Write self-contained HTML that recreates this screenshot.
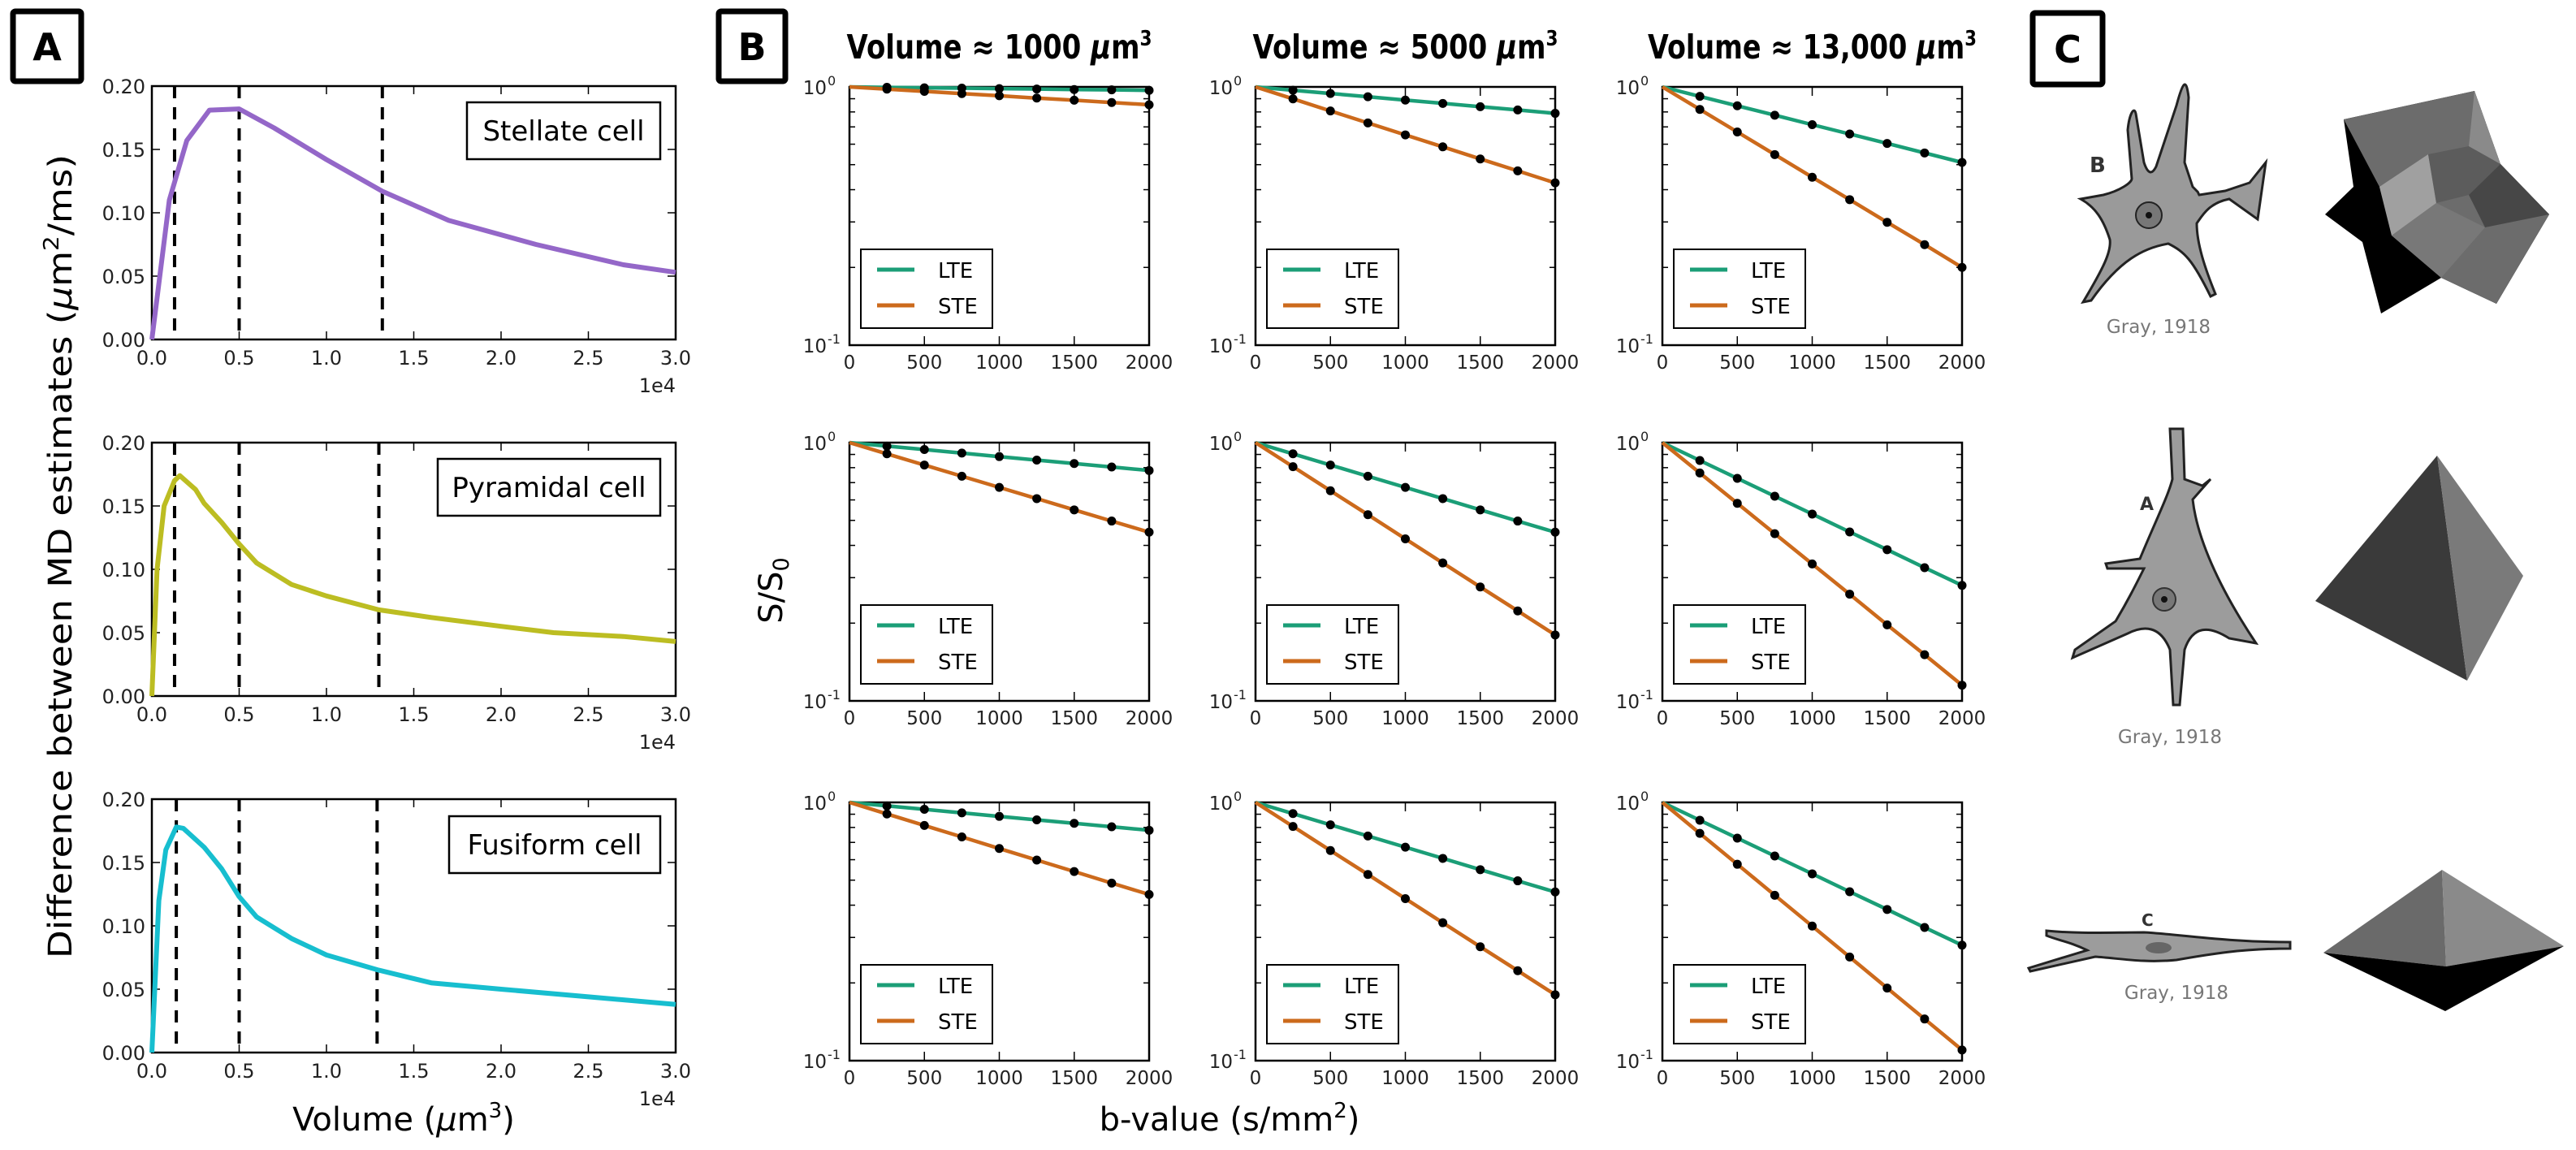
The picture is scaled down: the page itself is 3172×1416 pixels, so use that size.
<!DOCTYPE html>
<html><head><meta charset="utf-8"><style>
html,body{margin:0;padding:0;background:#fff;}
svg{display:block;}
text{font-family:"DejaVu Sans",sans-serif;}
</style></head><body>
<svg id="fig" xmlns="http://www.w3.org/2000/svg" width="3172" height="1416" viewBox="0 0 3172 1416">
<rect width="3172" height="1416" fill="#fff"/>
<g>
<rect x="16" y="14" width="84" height="86" fill="none" stroke="#000" stroke-width="7" rx="3"/>
<text x="58" y="74" text-anchor="middle" font-family="Liberation Sans, sans-serif" font-weight="bold" font-size="46">A</text></g>
<g>
<rect x="885" y="14" width="82" height="86" fill="none" stroke="#000" stroke-width="7" rx="3"/>
<text x="926" y="74" text-anchor="middle" font-family="Liberation Sans, sans-serif" font-weight="bold" font-size="46">B</text></g>
<g>
<rect x="2503" y="16" width="86" height="88" fill="none" stroke="#000" stroke-width="7" rx="3"/>
<text x="2546" y="77" text-anchor="middle" font-family="Liberation Sans, sans-serif" font-weight="bold" font-size="46">C</text></g>

<text transform="translate(88,685) rotate(-90)" text-anchor="middle" font-family="Liberation Sans, sans-serif" font-size="40" textLength="990" lengthAdjust="spacingAndGlyphs">Difference between MD estimates (<tspan font-style="italic">μ</tspan>m<tspan font-size="26" dy="-16">2</tspan><tspan dy="16">/ms)</tspan></text>
<text x="497" y="1392" text-anchor="middle" font-family="Liberation Sans, sans-serif" font-size="40">Volume (<tspan font-style="italic">μ</tspan>m<tspan font-size="26" dy="-16">3</tspan><tspan dy="16">)</tspan></text>
<text transform="translate(963,727) rotate(-90)" text-anchor="middle" font-family="Liberation Sans, sans-serif" font-size="40">S/S<tspan font-size="27" dy="8">0</tspan></text>
<text x="1514" y="1392" text-anchor="middle" font-family="Liberation Sans, sans-serif" font-size="40">b-value (s/mm<tspan font-size="26" dy="-16">2</tspan><tspan dy="16">)</tspan></text>

<g id="chartsA"></g>
<g id="chartsB"></g>

<g>
<path d="M2590,240 C2610,235 2625,225 2625,220 L2620,160 C2622,140 2628,130 2630,140 L2640,200 C2645,215 2650,215 2655,205 L2680,130 C2688,100 2692,95 2695,120 L2690,200 L2700,230 C2710,240 2705,235 2708,240 L2740,235 L2770,225 L2790,200 L2780,270 L2745,245 C2720,250 2712,265 2705,275 C2705,300 2715,330 2728,362 L2722,365 C2700,320 2690,310 2670,300 C2640,305 2610,320 2575,370 L2565,372 C2590,330 2600,310 2598,295 C2590,270 2580,255 2562,245 Z" fill="#9a9a9a" stroke="#222" stroke-width="3"/>
<circle cx="2646" cy="265" r="16" fill="#777" stroke="#222" stroke-width="2"/>
<circle cx="2646" cy="265" r="4" fill="#111"/>
<text x="2573" y="212" font-family="Liberation Serif, serif" font-weight="bold" font-size="26" fill="#333">B</text>
</g>
<text x="2658" y="410" text-anchor="middle" font-family="Liberation Sans, sans-serif" font-size="23" fill="#777">Gray, 1918</text>
<g>
<polygon points="2886,147 3047,112 3079,202 3139,264 3074,374 3006,342 2932,386 2909,298 2863,264 2898,230" fill="#000"/>
<polygon points="2886,147 3047,112 3079,202 3139,264 3074,374 3006,342 2945,290 2930,230" fill="#6c6c6c"/>
<polygon points="2930,230 2990,190 3000,250 2945,290" fill="#a0a0a0"/>
<polygon points="2990,190 3040,180 3079,202 3040,240 3000,250" fill="#5c5c5c"/>
<polygon points="3079,202 3139,264 3060,280 3040,240" fill="#474747"/>
<polygon points="2945,290 3000,250 3060,280 3006,342" fill="#787878"/>
<polygon points="3047,112 3079,202 3040,180" fill="#8a8a8a"/>
</g>
<g>
<path d="M2672,528 L2688,528 L2690,590 L2712,598 L2722,590 L2700,615 C2705,660 2730,720 2778,792 L2745,786 C2720,770 2700,770 2690,800 L2684,868 L2676,868 L2672,800 C2660,770 2640,770 2620,780 L2552,810 L2555,800 L2605,765 C2620,740 2630,720 2640,700 L2595,700 L2593,694 L2635,688 C2655,640 2670,610 2675,590 Z" fill="#9c9c9c" stroke="#222" stroke-width="3"/>
<circle cx="2665" cy="738" r="14" fill="#777" stroke="#333" stroke-width="2"/>
<circle cx="2665" cy="738" r="4" fill="#111"/>
<text x="2635" y="628" font-family="Liberation Serif, serif" font-weight="bold" font-size="22" fill="#333">A</text>
</g>
<text x="2672" y="915" text-anchor="middle" font-family="Liberation Sans, sans-serif" font-size="23" fill="#777">Gray, 1918</text>
<g>
<polygon points="3001,561 2851,740 3038,838" fill="#3a3a3a"/>
<polygon points="3001,561 3038,838 3107,709" fill="#7a7a7a"/>
</g>
<g>
<path d="M2520,1146 C2560,1150 2600,1148 2640,1148 C2680,1150 2740,1160 2820,1160 L2820,1168 C2760,1168 2720,1175 2680,1182 C2640,1186 2610,1180 2580,1178 L2500,1196 L2498,1192 L2570,1170 C2550,1160 2535,1158 2520,1152 Z" fill="#9c9c9c" stroke="#222" stroke-width="3"/>
<ellipse cx="2658" cy="1167" rx="16" ry="7" fill="#666"/>
<text x="2637" y="1140" font-family="Liberation Serif, serif" font-weight="bold" font-size="20" fill="#333">C</text>
</g>
<text x="2680" y="1230" text-anchor="middle" font-family="Liberation Sans, sans-serif" font-size="23" fill="#777">Gray, 1918</text>
<g>
<polygon points="3007,1071 2861,1173 3012,1190" fill="#6a6a6a"/>
<polygon points="3007,1071 3012,1190 3157,1165" fill="#8a8a8a"/>
<polygon points="2861,1173 3012,1190 3157,1165 3011,1245" fill="#000"/>
</g>
</svg>
<script>
const volX_stellate = [0, 0.1, 0.2, 0.33, 0.5, 0.7, 1.0, 1.32, 1.7, 2.2, 2.7, 3.0];
const diff_stellate = [0, 0.11, 0.157, 0.181, 0.182, 0.167, 0.142, 0.117, 0.094, 0.075, 0.059, 0.053];
const volX_pyramidal = [0, 0.03, 0.07, 0.13, 0.16, 0.25, 0.3, 0.4, 0.5, 0.6, 0.8, 1.0, 1.3, 1.6, 2.0, 2.3, 2.7, 3.0];
const diff_pyramidal = [0, 0.1, 0.15, 0.17, 0.174, 0.163, 0.152, 0.137, 0.12, 0.105, 0.088, 0.079, 0.068, 0.062, 0.055, 0.05, 0.047, 0.043];
const volX_fusiform = [0, 0.04, 0.08, 0.14, 0.18, 0.3, 0.4, 0.5, 0.6, 0.8, 1.0, 1.3, 1.6, 2.0, 2.5, 3.0];
const diff_fusiform = [0, 0.12, 0.16, 0.178, 0.177, 0.162, 0.145, 0.123, 0.107, 0.09, 0.077, 0.065, 0.055, 0.05, 0.044, 0.038];
const dashes_stellate = [0.13, 0.5, 1.32];
const dashes_pyramidal = [0.13, 0.5, 1.3];
const dashes_fusiform = [0.14, 0.5, 1.29];
const cellNames = ["Stellate cell", "Pyramidal cell", "Fusiform cell"];
const yTicksA = [0, 0.05, 0.10, 0.15, 0.20];
const yTickLabelsA = ["0.00", "0.05", "0.10", "0.15", "0.20"];
const xTicksA = [0, 0.5, 1.0, 1.5, 2.0, 2.5, 3.0];
const xTickLabelsA = ["0.0", "0.5", "1.0", "1.5", "2.0", "2.5", "3.0"];

const bValues = [0, 250, 500, 750, 1000, 1250, 1500, 1750, 2000];
const bTicks = [0, 500, 1000, 1500, 2000];
const bTickLabels = ["0", "500", "1000", "1500", "2000"];
const volTitles = ["1000", "5000", "13,000"];
const lte_r1c1 = [1, .996, .992, .989, .985, .981, .977, .974, .97];
const ste_r1c1 = [1, .980, .961, .942, .924, .905, .888, .870, .853];
const lte_r1c2 = [1, .971, .943, .916, .889, .863, .838, .814, .79];
const ste_r1c2 = [1, .899, .807, .725, .652, .586, .526, .473, .425];
const lte_r1c3 = [1, .919, .845, .777, .714, .657, .604, .555, .51];
const ste_r1c3 = [1, .818, .669, .547, .447, .366, .299, .245, .20];
const lte_r2c1 = [1, .969, .940, .911, .883, .856, .830, .805, .78];
const ste_r2c1 = [1, .905, .819, .741, .671, .607, .549, .497, .45];
const lte_r2c2 = [1, .905, .819, .741, .671, .607, .549, .497, .45];
const ste_r2c2 = [1, .807, .651, .526, .424, .342, .276, .223, .18];
const lte_r2c3 = [1, .853, .727, .620, .529, .451, .385, .328, .28];
const ste_r2c3 = [1, .763, .582, .444, .339, .259, .197, .151, .115];
const lte_r3c1 = [1, .969, .940, .911, .883, .856, .830, .805, .78];
const ste_r3c1 = [1, .902, .814, .735, .663, .598, .540, .487, .44];
const lte_r3c2 = [1, .905, .819, .741, .671, .607, .549, .497, .45];
const ste_r3c2 = [1, .807, .651, .526, .424, .342, .276, .223, .18];
const lte_r3c3 = [1, .853, .727, .620, .529, .451, .385, .328, .28];
const ste_r3c3 = [1, .759, .576, .437, .332, .252, .191, .145, .11];
const minorLog = [0.2, 0.3, 0.4, 0.5, 0.6, 0.7, 0.8, 0.9];

const NS = "http://www.w3.org/2000/svg";
function mk(parent, tag, attrs, txt) {
  const e = document.createElementNS(NS, tag);
  for (const k in attrs) e.setAttribute(k, attrs[k]);
  if (txt !== undefined) e.textContent = txt;
  parent.appendChild(e);
  return e;
}

const gA = document.getElementById("chartsA");
const A_LEFT = 187, A_W = 645, A_H = 312;
const A_TOPS = [106, 545, 984];
const A_COLORS = ["#9467c8", "#bcbd22", "#17becf"];
const A_X = [volX_stellate, volX_pyramidal, volX_fusiform];
const A_Y = [diff_stellate, diff_pyramidal, diff_fusiform];
const A_D = [dashes_stellate, dashes_pyramidal, dashes_fusiform];
const A_LEG = [[575, 126], [539, 565], [553, 1005]];
for (let i = 0; i < 3; i++) {
  const top = A_TOPS[i], bot = top + A_H;
  const xA = v => A_LEFT + v / 3 * A_W;
  const yA = v => bot - v / 0.2 * A_H;
  const g = mk(gA, "g", {});
  
  
  mk(g, "rect", {x: A_LEFT, y: top, width: A_W, height: A_H, fill: "none", stroke: "#000", "stroke-width": 2.5});
  yTicksA.forEach((t, k) => {
    const y = yA(t);
    mk(g, "line", {x1: A_LEFT, x2: A_LEFT + 10, y1: y, y2: y, stroke: "#000", "stroke-width": 1.5});
    mk(g, "line", {x1: A_LEFT + A_W - 10, x2: A_LEFT + A_W, y1: y, y2: y, stroke: "#000", "stroke-width": 1.5});
    const lab = mk(g, "text", {x: A_LEFT - 8, y: y + 9, "text-anchor": "end", "font-size": 24, fill: "#222"}, yTickLabelsA[k]);
    
    
  });
  xTicksA.forEach((t, k) => {
    const x = xA(t);
    mk(g, "line", {x1: x, x2: x, y1: bot, y2: bot - 10, stroke: "#000", "stroke-width": 1.5});
    mk(g, "line", {x1: x, x2: x, y1: top, y2: top + 10, stroke: "#000", "stroke-width": 1.5});
    const lab = mk(g, "text", {x: x, y: bot + 31, "text-anchor": "middle", "font-size": 24, fill: "#222"}, xTickLabelsA[k]);
    
    
  });
  const ex = mk(g, "text", {x: A_LEFT + A_W, y: bot + 65, "text-anchor": "end", "font-size": 24, fill: "#222"}, "1e4");
  
  
  A_D[i].forEach(d => {
    const dl = mk(g, "line", {x1: xA(d), x2: xA(d), y1: top, y2: bot, stroke: "#000", "stroke-width": 4, "stroke-dasharray": "15 11"});
    
    
  });
  const pts = A_X[i].map((v, k) => xA(v).toFixed(1) + "," + yA(A_Y[i][k]).toFixed(1)).join(" ");
  const pl = mk(g, "polyline", {points: pts, fill: "none", stroke: A_COLORS[i], "stroke-width": 6, "stroke-linejoin": "round"});
  
  
  const lg = mk(g, "g", {});
  
  
  const lx = A_LEG[i][0], ly = A_LEG[i][1], lw = 813 - lx;
  mk(lg, "rect", {x: lx, y: ly, width: lw, height: 70, fill: "#fff", stroke: "#000", "stroke-width": 2.5});
  mk(lg, "text", {x: lx + lw / 2, y: ly + 47, "text-anchor": "middle", "font-family": "Liberation Sans, sans-serif", "font-size": 34}, cellNames[i]);
}

const gB = document.getElementById("chartsB");
const B_LEFTS = [1046, 1546, 2047], B_TOPS = [107, 545, 988], B_W = 369, B_H = 318;
const LTE = [[lte_r1c1, lte_r1c2, lte_r1c3], [lte_r2c1, lte_r2c2, lte_r2c3], [lte_r3c1, lte_r3c2, lte_r3c3]];
const STE = [[ste_r1c1, ste_r1c2, ste_r1c3], [ste_r2c1, ste_r2c2, ste_r2c3], [ste_r3c1, ste_r3c2, ste_r3c3]];
const C_LTE = "#1b9e77", C_STE = "#cc6a1c";
const titleLens = [376, 376, 405];
volTitles.forEach((v, c) => {
  const t = mk(gB, "text", {x: B_LEFTS[c] + B_W / 2, y: 72, "text-anchor": "middle", "font-family": "Liberation Sans, sans-serif", "font-weight": "bold", "font-size": 41, textLength: titleLens[c], lengthAdjust: "spacingAndGlyphs"});
  
  
  t.appendChild(document.createTextNode("Volume ≈ " + v + " "));
  mk(t, "tspan", {"font-style": "italic"}, "μ");
  t.appendChild(document.createTextNode("m"));
  mk(t, "tspan", {"font-size": 26, dy: -16}, "3");
});
for (let r = 0; r < 3; r++) for (let c = 0; c < 3; c++) {
  const L = B_LEFTS[c], T = B_TOPS[r], B = T + B_H;
  const xB = b => L + b / 2000 * B_W;
  const yB = s => T + (-Math.log10(s)) * B_H;
  const g = mk(gB, "g", {});
  
  
  mk(g, "rect", {x: L, y: T, width: B_W, height: B_H, fill: "none", stroke: "#000", "stroke-width": 2.5});
  minorLog.forEach(m => {
    const y = yB(m);
    mk(g, "line", {x1: L, x2: L + 7, y1: y, y2: y, stroke: "#000", "stroke-width": 1.5});
    mk(g, "line", {x1: L + B_W - 7, x2: L + B_W, y1: y, y2: y, stroke: "#000", "stroke-width": 1.5});
  });
  bTicks.forEach((b, k) => {
    const x = xB(b);
    mk(g, "line", {x1: x, x2: x, y1: B, y2: B - 11, stroke: "#000", "stroke-width": 1.5});
    mk(g, "line", {x1: x, x2: x, y1: T, y2: T + 11, stroke: "#000", "stroke-width": 1.5});
    const lab = mk(g, "text", {x: x, y: B + 29, "text-anchor": "middle", "font-size": 23, fill: "#222"}, bTickLabels[k]);
    
    
  });
  [[1, "0"], [0.1, "-1"]].forEach(p => {
    const lab = mk(g, "text", {x: L - 28, y: yB(p[0]) + 9, "text-anchor": "end", "font-size": 23, fill: "#222"}, "10");
    
    
    mk(g, "text", {x: L - 27, y: yB(p[0]) - 2, "text-anchor": "start", "font-size": 16, fill: "#222"}, p[1]);
  });
  [[LTE[r][c], C_LTE, "lte"], [STE[r][c], C_STE, "ste"]].forEach(s => {
    const pts = bValues.map((b, k) => xB(b).toFixed(1) + "," + yB(s[0][k]).toFixed(1)).join(" ");
    const pl = mk(g, "polyline", {points: pts, fill: "none", stroke: s[1], "stroke-width": 4.5});
    
    
  });
  [LTE[r][c], STE[r][c]].forEach(arr => {
    bValues.forEach((b, k) => {
      if (k === 0) return;
      const d = mk(g, "circle", {cx: xB(b), cy: yB(arr[k]), r: 5.5, fill: "#000"});
      
      
    });
  });
  const lg = mk(g, "g", {});
  
  
  mk(lg, "rect", {x: L + 14, y: B - 118, width: 162, height: 97, fill: "#fff", stroke: "#000", "stroke-width": 2});
  mk(lg, "line", {x1: L + 34, x2: L + 80, y1: B - 93, y2: B - 93, stroke: C_LTE, "stroke-width": 5});
  mk(lg, "text", {x: L + 109, y: B - 83, "font-size": 26}, "LTE");
  mk(lg, "line", {x1: L + 34, x2: L + 80, y1: B - 49, y2: B - 49, stroke: C_STE, "stroke-width": 5});
  mk(lg, "text", {x: L + 109, y: B - 39, "font-size": 26}, "STE");
}
</script>
</body></html>
